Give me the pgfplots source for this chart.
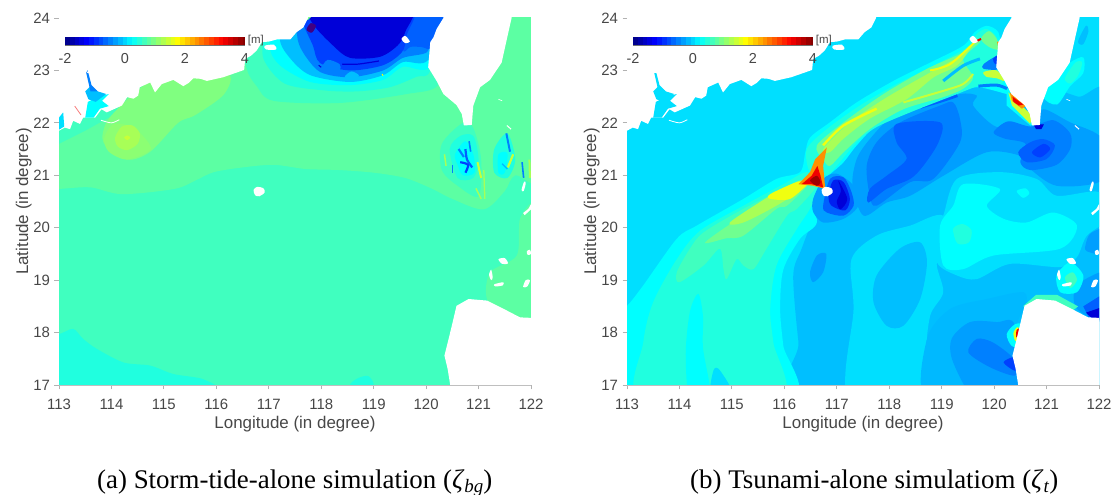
\documentclass[border=0pt]{standalone}
\usepackage{fontspec}
\setmainfont{Liberation Sans}
\newfontfamily\capfont{Liberation Serif}
\usepackage{pgfplots}
\pgfplotsset{compat=1.18}
\definecolor{jA}{HTML}{00DFFF}\definecolor{jB}{HTML}{00BFFF}\definecolor{jC}{HTML}{009FFF}
\definecolor{jD}{HTML}{0080FF}\definecolor{jE}{HTML}{0060FF}\definecolor{jF}{HTML}{0040FF}
\definecolor{jG}{HTML}{0020F0}\definecolor{jH}{HTML}{0000D8}\definecolor{jI}{HTML}{00FFFF}
\definecolor{jJ}{HTML}{20FFDF}\definecolor{jK}{HTML}{40FFBF}\definecolor{jL}{HTML}{5CFFA3}
\definecolor{jM}{HTML}{70FF90}\definecolor{jN}{HTML}{80FF80}\definecolor{jO}{HTML}{8CFF73}
\definecolor{jP}{HTML}{A8FF57}\definecolor{jQ}{HTML}{C8FF38}\definecolor{jY}{HTML}{F0FF10}
\definecolor{jR}{HTML}{FF9000}\definecolor{jS}{HTML}{F00000}\definecolor{jT}{HTML}{A00000}
\newcommand{\poly}[2]{\addplot[fill=#1,draw=none,forget plot] coordinates {#2} --cycle;}
\newcommand{\blob}[2]{\addplot[fill=#1,draw=none,forget plot,smooth cycle] coordinates {#2};}
\newcommand{\streak}[3]{\addplot[draw=#1,line width=#2,forget plot,smooth] coordinates {#3};}
\newcommand{\LandShapes}{%
 \poly{white}{(112.9,21.85)(113,21.85)(113.11,21.91)(113.21,21.88)(113.27,22.04)(113.4,21.98)(113.46,22.1)(113.69,22.1)(113.81,22.26)(113.91,22.2)(114.2,22.33)(114.3,22.49)(114.42,22.46)(114.51,22.52)(114.54,22.68)(114.74,22.77)(114.83,22.58)(114.96,22.74)(115.18,22.82)(115.37,22.7)(115.47,22.76)(115.56,22.85)(115.7,22.84)(115.82,22.8)(116.13,22.87)(116.39,22.96)(116.53,23.01)(116.55,23.22)(116.66,23.28)(116.77,23.38)(116.87,23.54)(117.0,23.55)(117.15,23.59)(117.41,23.59)(117.53,23.73)(117.66,23.82)(117.75,24)(117.75,24.2)(112.9,24.2)}
 \poly{white}{(120.33,24)(120.2,23.79)(120.14,23.63)(120.08,23.54)(120.04,23.06)(120.2,22.8)(120.33,22.55)(120.58,22.34)(120.68,22.17)(120.72,21.95)(120.87,21.96)(120.9,22.33)(121.03,22.68)(121.22,22.82)(121.44,23.15)(121.54,23.6)(121.63,24)(121.63,24.2)(120.33,24.2)}
 \poly{white}{(120.46,16.9)(120.46,17)(120.41,17.31)(120.35,17.56)(120.43,17.88)(120.49,18.13)(120.58,18.51)(120.81,18.64)(121.16,18.61)(121.54,18.42)(121.79,18.29)(122.01,18.28)(122.1,18.28)(122.1,16.9)}
 \blob{white}{(116.71,20.72)(116.78,20.78)(116.9,20.75)(116.92,20.67)(116.82,20.6)(116.74,20.62)}
 \blob{white}{(119.53,23.6)(119.6,23.66)(119.69,23.55)(119.6,23.52)}
 \blob{white}{(121.38,19.4)(121.5,19.42)(121.56,19.32)(121.45,19.31)}
 \blob{white}{(121.2,19.1)(121.24,19.2)(121.27,19.05)(121.24,19.0)}
 \blob{white}{(121.3,18.92)(121.47,18.96)(121.46,18.9)(121.32,18.88)}
 \blob{white}{(121.85,18.87)(121.9,19.0)(121.98,19.0)(121.93,18.88)}
 \blob{white}{(121.92,19.55)(121.98,19.58)(122,19.5)(121.94,19.48)}
 \blob{white}{(121.82,20.72)(121.87,20.88)(121.9,20.85)(121.86,20.7)}
 \poly{white}{(121.85,20.28)(121.95,20.36)(122,20.45)(122,20.35)(121.88,20.24)}
 \streak{white}{0.8bp}{(113.8,22.05)(114.0,22.0)(114.15,22.06)}
 \streak{white}{0.6bp}{(121.38,22.45)(121.45,22.42)}
 \streak{white}{1bp}{(121.54,21.95)(121.62,21.88)}
 \blob{white}{(116.92,23.47)(117.1,23.49)(117.14,23.4)(116.95,23.4)}
}
\pgfplotsset{mapax/.style={scale only axis,width=472bp,height=367bp,anchor=south west,
 xmin=113,xmax=122,ymin=17,ymax=24,xtick={113,114,...,122},ytick={17,18,...,24},
 axis x line*=bottom,axis y line*=left,axis line style={draw=black!25,line width=0.8bp,-},
 tick style={draw=black!30,line width=0.8bp},tick align=outside,major tick length=4.5bp,
 xticklabel shift=6bp,yticklabel shift=1bp,
 /pgf/number format/assume math mode=true,/pgf/number format/1000 sep={},
 tick label style={font=\fontsize{15}{17}\selectfont,text=black!72},
 label style={font=\fontsize{17}{19}\selectfont,text=black!72},
 xlabel={Longitude (in degree)},ylabel={Latitude (in degree)},
 xlabel shift=0bp,ylabel shift=-5bp},
 cbax/.style={scale only axis,width=180bp,height=8bp,anchor=south west,xmin=-2,xmax=4,ymin=0,ymax=1,
 xtick={-2,0,2,4},ytick=\empty,axis line style={draw=black!55,line width=0.35bp,-},axis x line*=bottom,axis y line=none,
 tick style={draw=none},major tick length=0bp,xticklabel shift=5bp,
 /pgf/number format/assume math mode=true,
 tick label style={font=\fontsize{14.5}{16}\selectfont,text=black!72},
 colormap/jet,point meta min=-2,point meta max=4,clip=false}}
\newcommand{\cbar}{%
 \addplot[mesh,line width=8bp,point meta=x,forget plot] coordinates {(-2,.5)(-1.84,.5)(-1.68,.5)(-1.52,.5)(-1.36,.5)(-1.2,.5)(-1.04,.5)(-.88,.5)(-.72,.5)(-.56,.5)(-.4,.5)(-.24,.5)(-.08,.5)(.08,.5)(.24,.5)(.4,.5)(.56,.5)(.72,.5)(.88,.5)(1.04,.5)(1.2,.5)(1.36,.5)(1.52,.5)(1.68,.5)(1.84,.5)(2,.5)(2.16,.5)(2.32,.5)(2.48,.5)(2.64,.5)(2.8,.5)(2.96,.5)(3.12,.5)(3.28,.5)(3.44,.5)(3.6,.5)(3.76,.5)(3.92,.5)(4,.5)};
 \node[anchor=west,font=\fontsize{11.5}{12}\selectfont,text=black!72,inner sep=0pt] at (rel axis cs:1.015,0.6) {[m]};
}
\begin{document}
\begin{tikzpicture}[x=1bp,y=1bp]
\useasboundingbox (0,0) rectangle (1115bp,495bp);
% ---------- panel a
\begin{axis}[mapax,at={(59bp,110bp)}]
\poly{jK}{(112.9,16.9)(122.1,16.9)(122.1,24.1)(112.9,24.1)}
\blob{jJ}{(112.8,18)(113,17.97)(113.27,18.07)(113.46,17.88)(113.72,17.69)(114.23,17.43)(114.74,17.37)(115.18,17.21)(115.75,17.11)(115.82,16.9)(112.8,16.8)}
\blob{jJ}{(118.55,17.0)(118.7,17.13)(118.9,17.17)(119,17)(118.8,16.9)}
\blob{jL}{(112.7,20.74)(113,20.74)(113.6,20.77)(114.2,20.64)(115.2,20.74)(115.6,20.9)(115.95,21.06)(116.5,21.15)(117.1,21.2)(117.7,21.12)(118.35,21.1)(119,21.05)(119.6,20.95)(120.1,20.75)(120.5,20.55)(121.1,20.35)(121.5,20.7)(121.7,21)(122.3,21)(122.3,24.4)(112.7,24.4)}
\blob{jL}{(121.16,18.64)(121.22,19.15)(121.73,19.47)(121.8,20.2)(122.2,20.45)(122.2,18.2)(121.5,18.3)}
\poly{jK}{(112.9,21.5)(113,21.6)(113.5,21.85)(113.95,22.1)(114.25,22.3)(114.2,22.5)(113.3,22.2)(112.9,22)}
\blob{jN}{(114.2,22.35)(113.9,22.0)(113.85,21.62)(114.3,21.3)(114.74,21.45)(115.27,22.0)(115.6,22.15)(116.15,22.55)(116.2,22.95)(115,22.95)(114.6,22.7)}
\blob{jO}{(113.86,21.7)(114.0,21.95)(114.2,21.98)(114.5,21.85)(114.75,21.5)(114.3,21.3)(113.95,21.45)}
\blob{jP}{(114.07,21.72)(114.2,21.93)(114.4,21.95)(114.54,21.8)(114.5,21.6)(114.3,21.48)(114.12,21.55)}
\blob{jQ}{(114.24,21.72)(114.3,21.76)(114.36,21.72)(114.3,21.67)}
% strait
\blob{jK}{(116.58,23.03)(116.77,22.7)(117.09,22.42)(118.36,22.38)(119.63,22.55)(120.23,22.72)(120.4,23.5)(117.72,24.3)(116.58,23.6)}
\blob{jJ}{(116.9,23.22)(117.3,22.75)(118.04,22.62)(118.68,22.6)(119.31,22.68)(119.82,22.88)(120.08,23.0)(120.4,24.2)(117.5,24.3)(116.96,23.7)}
\blob{jI}{(117.02,23.48)(117.21,23.1)(117.79,22.78)(118.55,22.72)(119.18,22.82)(119.56,23.07)(120.08,23.07)(120.4,24.2)(117.2,24.3)}
\blob{jB}{(117.21,23.62)(117.4,23.24)(117.79,22.91)(118.55,22.78)(119.18,22.91)(119.56,23.16)(120.04,23.2)(120.4,24.2)(117.4,24.3)}
\blob{jD}{(117.54,23.68)(117.65,23.35)(117.98,22.97)(118.55,22.87)(119.18,23.0)(119.56,23.24)(120.02,23.35)(120.08,23.68)(120.4,24.2)(117.6,24.3)}
\blob{jE}{(119.56,23.4)(119.7,23.45)(119.9,23.45)(120.15,23.45)(120.4,24.2)(119.6,24.3)}
\blob{jF}{(117.65,23.92)(117.84,23.48)(117.98,23.14)(118.55,23.0)(119.18,23.1)(119.54,23.35)(119.63,23.67)(119.7,24.3)(117.65,24.3)}
\blob{jH}{(117.82,23.92)(118.22,23.48)(118.55,23.24)(119.12,23.26)(119.46,23.48)(119.6,23.73)(119.7,24.3)(117.8,24.3)}
\blob{jD}{(118,23.02)(118.12,23.2)(118.35,23.12)(118.35,23.0)(118.15,22.97)}
\blob{jB}{(118.45,22.88)(118.58,22.98)(118.72,22.9)(118.58,22.8)}
\streak{jH}{1.2bp}{(118.4,23.12)(118.7,23.12)(119.1,23.18)}
\streak{jH}{1bp}{(117.95,23.1)(118.0,23.06)}
\blob{jT!40!jH}{(117.72,23.78)(117.8,23.9)(117.9,23.85)(117.82,23.72)}
\streak{jM}{3bp}{(117.72,23.98)(117.8,24.05)}
\streak{jY}{1bp}{(119.16,22.93)(119.18,22.9)}
% ripples
\blob{jK}{(120.3,21.6)(120.7,22.0)(120.9,21.9)(121.05,21.3)(121.0,20.6)(120.6,20.8)(120.3,21.1)}
\blob{jJ}{(120.45,21.5)(120.65,21.75)(120.9,21.75)(121,21.3)(120.9,20.95)(120.6,20.95)}
\blob{jI}{(120.55,21.4)(120.75,21.65)(120.9,21.4)(120.92,21.05)(120.7,21)(120.6,21.2)}
\streak{jD}{2.2bp}{(120.62,21.5)(120.72,21.35)}
\streak{jE}{2.2bp}{(120.75,21.5)(120.78,21.3)(120.88,21.15)}
\streak{jF}{2.2bp}{(120.65,21.25)(120.8,21.2)(120.75,21.05)}
\streak{jD}{1.6bp}{(120.82,21.65)(120.85,21.45)}
\streak{jD}{1.3bp}{(120.5,21.2)(120.5,21.05)}
\streak{jQ}{2bp}{(120.98,21.25)(121.05,20.95)}
\streak{jP}{1.5bp}{(120.35,21.4)(120.38,21.18)}
\streak{jP}{1.5bp}{(120.95,20.75)(121.05,20.55)}
\streak{jP}{1.3bp}{(121.1,21.1)(121.12,20.55)}
\blob{jJ}{(121.3,21.5)(121.55,21.8)(121.7,21.3)(121.55,20.95)(121.3,21.05)}
\blob{jI}{(121.38,21.4)(121.55,21.42)(121.5,21.05)(121.38,21.05)}
\streak{jD}{2bp}{(121.53,21.8)(121.6,21.45)}
\streak{jB}{1.5bp}{(121.45,21.22)(121.55,21.12)}
\streak{jQ}{2.2bp}{(121.66,21.4)(121.56,21.15)}
\streak{jP}{2bp}{(121.97,21.3)(121.98,20.95)}
\streak{jD}{1.6bp}{(121.83,21.25)(121.86,20.95)}
\LandShapes
% estuary
\poly{jI}{(113.5,22.1)(113.55,22.4)(113.75,22.5)(113.95,22.55)(113.82,22.42)(113.95,22.32)(113.78,22.27)(113.66,22.1)}
\poly{jB}{(113.5,22.6)(113.6,22.7)(113.74,22.6)(113.9,22.55)(113.7,22.4)(113.56,22.45)}
\poly{jD}{(113.52,22.95)(113.56,22.95)(113.62,22.72)(113.74,22.6)(113.6,22.6)}
\streak{jD}{0.5bp}{(113.52,22.95)(113.55,23.0)}
\streak{jS!50}{0.8bp}{(113.3,22.32)(113.42,22.15)}
\poly{jA}{(113,21.87)(113.1,21.93)(113.08,22.2)(113,22.1)}
\end{axis}
\begin{axis}[cbax,at={(65bp,450bp)}]
\cbar
\end{axis}
% ---------- panel b
\begin{axis}[mapax,at={(627bp,110bp)}]
\poly{jA}{(112.9,16.9)(122.1,16.9)(122.1,24.1)(112.9,24.1)}
\blob{jB}{(116.43,16.7)(116.27,17.81)(116.17,19.09)(116.33,19.6)(116.6,20.3)(117,21.3)(117.8,22)(119,22.6)(120,22.8)(120.4,22.6)(120.8,22.2)(121,22.65)(121.6,22.5)(122.3,22.3)(122.3,16.7)}
\blob{jI}{(120.94,22.5)(121.2,22.9)(121.45,23.15)(121.7,23.25)(121.7,22.95)(121.45,22.7)(121.2,22.35)}
\blob{jJ}{(121.35,22.85)(121.55,23.15)(121.68,23.15)(121.6,22.9)(121.45,22.75)}
\blob{jB}{(121.6,23.55)(121.75,23.85)(121.8,23.75)(121.7,23.5)}
% central shallow
\blob{jA}{(119.03,20.23)(119.29,20.93)(120.11,21.06)(120.81,20.93)(121.19,20.61)(122,20.68)(122.2,20.2)(121.77,19.85)(121.58,19.44)(121.26,19.25)(120.3,19.31)(119.67,19.02)(119.29,19.09)(118.91,19.34)(118.9,20)}
\blob{jA}{(117.25,16.7)(117.32,18.45)(117.28,19.4)(117.76,19.85)(118.4,20.04)(119.03,20.23)(119.3,19.5)(118.91,19.34)(119.03,18.77)(118.78,18.32)(118.72,17.5)(119.03,16.7)}
\blob{jI}{(118.97,20.04)(119.03,19.28)(119.41,19.21)(119.99,19.47)(121.26,19.6)(121.58,20.04)(121.13,20.29)(120.62,20.1)(120.18,20.17)(119.86,20.42)(120.11,20.74)(119.41,20.83)(119.22,20.42)}
\blob{jI}{(120.43,20.7)(120.6,20.75)(120.67,20.65)(120.55,20.57)}
\blob{jJ}{(119.22,19.98)(119.4,20.07)(119.57,19.95)(119.52,19.72)(119.3,19.7)}
\blob{jB}{(117.76,19.09)(118.2,19.6)(118.59,19.72)(118.72,19.34)(118.59,18.64)(118.27,18.13)(117.95,18.13)(117.7,18.58)}
\blob{jC}{(116.49,19.15)(116.62,19.47)(116.8,19.5)(116.74,19.15)(116.55,18.96)}
% bottom right
\blob{jB!80!jC}{(118.72,16.7)(118.72,17.88)(119.16,18.45)(119.86,18.64)(120.56,18.77)(120.6,18.5)(120.43,18.1)(120.43,16.7)}
\blob{jC}{(119.22,17.43)(119.19,17.88)(119.54,18.2)(120.05,18.2)(120.4,18.13)(120.5,16.7)(119.67,16.7)}
\blob{jD}{(119.51,17.62)(119.67,17.88)(119.98,17.81)(120.37,17.5)(120.4,17.18)(119.92,17.34)}
\blob{jF}{(120.18,17.43)(120.37,17.53)(120.46,17.4)(120.4,17.27)}
\blob{jI}{(120.24,17.97)(120.4,18.16)(120.56,18.13)(120.49,17.75)(120.33,17.75)}
\blob{jY}{(120.37,18.0)(120.46,18.1)(120.49,17.81)(120.4,17.85)}
\blob{jS}{(120.43,18.05)(120.49,18.07)(120.47,17.9)(120.42,17.92)}
% basin
\blob{jC}{(117.51,20.23)(117.95,20.48)(118.4,20.61)(119.03,20.99)(119.86,21.44)(120.5,21.37)(120.69,21.12)(121.19,20.8)(122,20.87)(122.2,21.3)(122,21.76)(121.45,22.01)(120.94,22.26)(120.81,21.95)(120.5,21.82)(119.99,21.95)(119.6,22.33)(119.67,22.52)(119.35,22.55)(118.72,22.33)(118.08,22.14)(117.63,21.69)(117.38,21.31)(117.3,20.8)}
\blob{jD}{(117.63,20.61)(117.76,20.42)(118.4,20.87)(118.84,20.93)(119.35,21.63)(119.35,22.07)(119.22,22.39)(118.97,22.33)(118.21,22.01)(117.76,21.63)(117.57,21.18)}
\blob{jE}{(118.14,21.98)(118.97,22.01)(118.94,21.63)(118.65,21.18)(118.4,20.93)(117.95,20.74)(117.6,20.48)(117.63,20.74)(117.95,20.99)(118.33,21.31)(118.14,21.63)}
\streak{jE}{3bp}{(118.6,22.3)(119.0,22.42)(119.3,22.52)}
\blob{jD}{(119.99,21.82)(120.27,22.03)(120.7,21.93)(121.13,22.05)(121.45,21.8)(121.45,21.5)(121.19,21.2)(120.69,21.1)(120.5,21.25)(120.6,21.6)(120.2,21.7)}
\blob{jE}{(120.46,21.44)(120.69,21.63)(120.94,21.69)(121.16,21.57)(121,21.31)(120.62,21.25)}
\blob{jF}{(120.72,21.44)(120.94,21.6)(121.07,21.5)(120.88,21.34)}
% east edge and N Luzon
\blob{jC}{(121.77,19.55)(122.2,19.5)(122.2,20.0)(121.85,19.9)(121.75,19.7)}
\blob{jC}{(121.58,18.9)(122.2,19.15)(122.2,18.2)(121.58,18.45)}
\poly{jE}{(121.7,18.5)(122.1,18.75)(122.1,18.2)(121.8,18.3)}
\poly{jH}{(121.75,18.38)(122.1,18.5)(122.1,18.2)(121.85,18.29)}
\blob{jI}{(121.19,19.09)(121.45,19.34)(121.7,19.09)(121.58,18.77)(121.26,18.77)}
\blob{jK}{(121.35,19.05)(121.5,19.15)(121.58,19.0)(121.45,18.85)}
\poly{jK}{(120.55,18.5)(120.8,18.72)(121.2,18.72)(121.6,18.5)(121.5,18.42)}
% beam envelope
\blob{jI}{(112.7,18.3)(113,18.51)(113.31,18.9)(113.95,19.79)(114.33,20.04)(115.22,20.55)(115.85,20.93)(116.3,21.06)(116.4,21.44)(116.49,21.72)(116.87,22.01)(117.38,22.39)(118.08,22.8)(118.72,23.12)(119.41,23.47)(119.63,23.73)(119.86,23.85)(120.08,23.73)(120.14,23.35)(120.24,22.72)(120.37,22.52)(120.24,22.55)(119.67,22.68)(119.22,22.55)(118.4,22.26)(117.76,21.95)(117.38,21.57)(117.13,21.25)(116.87,21.02)(116.49,20.71)(116.62,20.1)(116.3,19.79)(115.98,19.2)(115.92,18.45)(115.98,17.75)(116.11,16.7)(112.7,16.7)}
\blob{jJ}{(113.28,16.7)(113.31,17.81)(113.5,18.58)(113.95,19.4)(114.39,19.94)(115.22,20.42)(115.98,20.83)(116.43,21.06)(116.68,20.8)(116.49,20.36)(116.24,19.98)(115.85,19.28)(115.73,18.45)(115.79,17.81)(115.92,16.7)}
\blob{jI}{(114.36,18.74)(114.2,18.4)(114.12,17.6)(114.2,16.7)(114.6,16.7)(114.45,17.7)(114.45,18.3)}
\blob{jA}{(114.6,16.8)(114.65,17.28)(114.77,17.28)(115.03,16.8)}
\blob{jK}{(113.95,19.15)(114.2,19.6)(114.46,19.91)(115.22,20.36)(116.11,20.8)(116.49,20.93)(116.62,20.8)(116.24,20.36)(116.05,20.23)(115.66,19.6)(115.41,19.21)(115.22,19.28)(115.09,19.4)(114.9,19.02)(114.84,19.21)(114.77,19.6)(114.46,19.28)(114,18.96)}
\blob{jM}{(114.49,19.72)(115.22,20.23)(116.24,20.8)(116.43,20.8)(116.05,20.42)(115.85,20.36)(115.22,19.85)(114.9,19.8)}
\blob{jP}{(114.96,20.1)(115.73,20.61)(116.3,20.9)(116.43,20.8)(115.85,20.42)(115.22,20.1)}
\blob{jY}{(115.73,20.64)(116.24,20.87)(116.43,20.84)(116.11,20.55)(115.73,20.55)}
% vortex
\blob{jC}{(116.55,20.55)(116.74,20.93)(117,21.03)(117.32,20.8)(117.41,20.42)(117.13,20.17)(116.74,20.1)(116.55,20.3)}
\blob{jE}{(116.74,20.42)(116.87,20.93)(117.13,20.96)(117.28,20.68)(117.32,20.42)(117.13,20.23)(116.81,20.29)}
\blob{jG}{(116.84,20.6)(116.93,20.9)(117.13,20.87)(117.25,20.55)(117.16,20.33)(116.9,20.42)}
\blob{jH}{(117.03,20.9)(117.2,20.55)(117.07,20.35)(117.0,20.5)(117.08,20.7)}
% upper beam
\blob{jJ}{(116.43,21.5)(116.81,21.88)(117.44,22.33)(118.14,22.74)(118.78,23.06)(119.48,23.44)(119.67,23.7)(119.86,23.79)(120.05,23.63)(120.11,23.28)(120.17,22.77)(119.8,22.74)(119.22,22.52)(118.4,22.2)(117.76,21.92)(117.38,21.63)(117,21.18)(116.81,21)(116.49,21.06)}
\blob{jM}{(116.62,21.57)(117.13,22.01)(117.89,22.55)(118.72,23.03)(119.48,23.38)(119.63,23.6)(119.73,23.54)(119.41,23.22)(119.6,22.87)(119.41,22.65)(119.03,22.49)(118.27,22.26)(117.63,21.88)(117.13,21.44)(116.87,21.18)(116.74,21.3)}
\blob{jP}{(116.74,21.5)(117.25,22.01)(117.96,22.49)(118.78,22.96)(119.41,23.31)(119.63,23.54)(119.3,23.1)(118.85,22.87)(118.33,22.45)(117.63,22.08)(117.13,21.7)(116.87,21.44)}
\streak{jY}{2bp}{(118.78,23.0)(119.16,23.12)(119.63,23.54)}
\streak{jQ}{2bp}{(118.27,22.39)(119.03,22.61)(119.41,22.74)(119.6,22.93)}
\streak{jY}{2.5bp}{(116.74,21.57)(117.13,21.95)(117.76,22.27)}
\streak{jB}{3bp}{(119.03,22.8)(119.41,23.09)(119.73,23.22)}
\blob{jQ}{(119.8,22.97)(120.05,23.0)(120.2,22.8)(120.05,22.85)(119.85,22.88)}
\blob{jD}{(119.8,23.12)(120.08,23.28)(120.1,23.03)(119.8,23.03)}
\blob{jF}{(119.98,23.22)(120.1,23.3)(120.12,23.12)(120.02,23.12)}
\blob{jM}{(119.75,23.6)(119.9,23.75)(120.05,23.6)(120.08,23.4)(119.9,23.45)}
\streak{jR}{2.5bp}{(120.08,23.55)(120.12,23.38)}
\streak{jD}{3bp}{(119.7,22.7)(120.05,22.72)(120.25,22.65)}
\streak{jS}{2bp}{(119.65,23.55)(119.75,23.6)}
% star
\poly{jR}{(116.27,20.83)(116.49,21.06)(116.59,21.31)(116.81,21.53)(116.74,21.18)(116.78,20.74)(116.55,20.8)}
\poly{jS}{(116.33,20.83)(116.52,20.99)(116.63,21.18)(116.69,20.99)(116.74,20.77)(116.52,20.83)}
\blob{jT}{(116.49,20.9)(116.62,20.99)(116.69,20.87)(116.62,20.8)}
% S Taiwan
\poly{jI}{(120.24,22.65)(120.81,22.01)(120.69,21.95)(120.24,22.33)}
\poly{jY!70!jM}{(120.27,22.58)(120.72,22.14)(120.69,21.98)(120.34,22.33)}
\poly{jR}{(120.3,22.58)(120.62,22.33)(120.53,22.27)(120.34,22.42)}
\poly{jS}{(120.35,22.5)(120.56,22.35)(120.47,22.33)(120.37,22.4)}
\poly{jH}{(120.75,21.97)(120.95,21.97)(120.9,21.88)(120.8,21.88)}
\LandShapes
\poly{jA}{(113.5,22.1)(113.55,22.4)(113.75,22.5)(113.95,22.55)(113.82,22.42)(113.95,22.32)(113.78,22.27)(113.66,22.1)}
\poly{jA}{(113.5,22.6)(113.6,22.7)(113.74,22.6)(113.9,22.55)(113.7,22.4)(113.56,22.45)}
\poly{jA}{(113.52,22.95)(113.56,22.95)(113.62,22.72)(113.74,22.6)(113.6,22.6)}
\end{axis}
\begin{axis}[cbax,at={(633bp,450bp)}]
\cbar
\end{axis}
\node[anchor=base west,font=\capfont\fontsize{27}{30}\selectfont,inner sep=0pt] at (97bp,7bp) {(a) Storm-tide-alone simulation (\textit{ζ}\raisebox{-4bp}{\fontsize{19}{19}\selectfont\textit{bg}})};
\node[anchor=base west,font=\capfont\fontsize{27}{30}\selectfont,inner sep=0pt] at (690bp,7bp) {(b) Tsunami-alone simulatiom (\textit{ζ}\raisebox{-4bp}{\fontsize{19}{19}\selectfont\textit{t}})};
\end{tikzpicture}
\end{document}
